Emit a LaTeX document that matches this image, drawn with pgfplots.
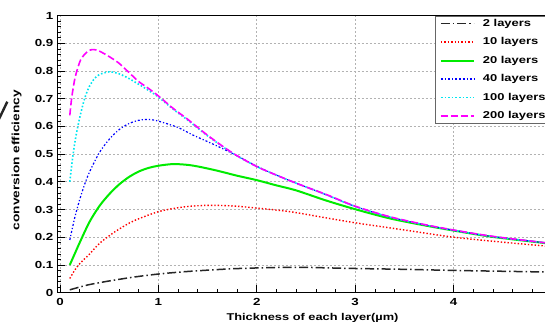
\documentclass[border=0pt]{standalone}
\usepackage{fontspec}
\setmainfont{Liberation Sans}[FakeStretch=1.3]
\usepackage{pgfplots}
\pgfplotsset{compat=1.18}

\definecolor{rootgreen}{RGB}{0,235,0}
\definecolor{rootcyan}{RGB}{0,230,240}
\definecolor{rootmagenta}{RGB}{255,0,255}
\definecolor{rootred}{RGB}{255,0,0}
\definecolor{rootblue}{RGB}{0,0,255}

\begin{document}
\begin{tikzpicture}
% page frame: the plot runs past the right edge
\useasboundingbox (-57.5bp,-29.4bp) rectangle (487.5bp,292.6bp);
\clip (-57.5bp,-29.4bp) rectangle (487.5bp,292.6bp);
\begin{axis}[
  at={(0bp,0bp)}, anchor=south west,
  scale only axis,
  width=494.5bp, height=277bp,
  xmin=-0.025, xmax=5, ymin=0, ymax=1,
  xtick={0,1,2,3,4,5},
  xticklabels={0,1,2,3,4,{}},
  ytick={0,0.1,...,1.01},
  minor x tick num=4, minor y tick num=4,
  tick align=inside, tick pos=left,
  major tick length=8bp, minor tick length=4bp,
  every tick/.style={black, line width=0.6bp},
  axis line style={black, line width=0.8bp},
  grid=major,
  major grid style={gray!60, line width=0.6bp, dash pattern=on 2bp off 2bp},
  /pgf/number format/assume math mode=true,
  yticklabel style={font=\fontsize{10.3}{11}\selectfont\bfseries, inner sep=0pt, anchor=east, xshift=-4bp},
  xticklabel style={font=\fontsize{10.3}{11}\selectfont\bfseries, inner sep=0pt, anchor=north, yshift=-6bp},
  xlabel={Thickness of each layer(\textmu m)},
  ylabel={conversion efficiency},
  every axis x label/.style={at={(axis description cs:0.5157,0)}, anchor=base, yshift=-27.8bp,
    font=\fontsize{9.9}{11}\selectfont\bfseries},
  every axis y label/.style={at={(axis description cs:-0.0825,0.478)}, rotate=90, anchor=center,
    font=\fontsize{10.6}{11}\selectfont\bfseries},
  legend image code/.code={\draw[#1] (0bp,0bp) -- (33bp,0bp);},
  legend cell align=left,
  legend style={at={(axis description cs:0.7634,1)}, anchor=north west,
    draw=black!60, fill=white, line width=0.8bp,
    inner xsep=4.5bp, inner ysep=3bp,
    font=\fontsize{10}{11}\selectfont\bfseries,
    nodes={inner sep=0pt, text height=7.5bp, text depth=2bp},
    row sep=8.9bp, column sep=8bp},
]
% 2 layers
\addplot[black!85, line width=1.5bp, dash pattern=on 9bp off 3bp on 1.5bp off 3bp, smooth] coordinates {
 (0.1,0.010) (0.2,0.020) (0.3,0.029) (0.5,0.042) (0.75,0.056) (1,0.067) (1.25,0.075)
 (1.5,0.081) (1.75,0.086) (2,0.089) (2.25,0.091) (2.5,0.091) (2.75,0.089) (3,0.087)
 (3.5,0.084) (4,0.080) (4.5,0.077) (5,0.074)};
\addlegendentry{2 layers}
% 10 layers
\addplot[rootred, line width=1.4bp, dash pattern=on 1.4bp off 2bp, smooth] coordinates {
 (0.1,0.051) (0.15,0.081) (0.2,0.104) (0.3,0.139) (0.4,0.177) (0.5,0.205) (0.6,0.229)
 (0.75,0.259) (1,0.292) (1.25,0.309) (1.5,0.315) (1.75,0.313) (2,0.305) (2.34,0.292)
 (2.7,0.270) (3,0.252) (3.5,0.226) (4,0.200) (4.5,0.182) (5,0.166)};
\addlegendentry{10 layers}
% 20 layers
\addplot[rootgreen, line width=2bp, smooth] coordinates {
 (0.1,0.100) (0.15,0.140) (0.2,0.180) (0.3,0.255) (0.4,0.312) (0.5,0.355) (0.6,0.390)
 (0.7,0.417) (0.8,0.437) (0.9,0.450) (1.0,0.458) (1.15,0.464) (1.3,0.461) (1.42,0.454)
 (1.6,0.440) (1.8,0.422) (2.0,0.406) (2.2,0.387) (2.4,0.369) (2.7,0.333) (3.0,0.301)
 (3.35,0.268) (3.7,0.243) (4.0,0.224) (4.4,0.201) (5.0,0.176)};
\addlegendentry{20 layers}
% 40 layers
\addplot[rootblue, line width=1.2bp, dash pattern=on 2bp off 2bp on 1.2bp off 2bp, smooth] coordinates {
 (0.1,0.190) (0.15,0.270) (0.2,0.335) (0.25,0.390) (0.3,0.435) (0.4,0.505) (0.5,0.553)
 (0.6,0.588) (0.7,0.610) (0.8,0.622) (0.9,0.625) (1.0,0.619) (1.2,0.596) (1.35,0.569)
 (1.55,0.537) (1.75,0.503) (1.9,0.475) (2.0,0.456) (2.2,0.424) (2.4,0.395) (2.7,0.354)
 (3.0,0.311) (3.35,0.273) (3.7,0.245) (4.0,0.225) (4.4,0.202) (5.0,0.177)};
\addlegendentry{40 layers}
% 100 layers
\addplot[rootcyan, line width=1.6bp, dash pattern=on 1.6bp off 2bp, smooth] coordinates {
 (0.1,0.400) (0.13,0.490) (0.16,0.560) (0.2,0.630) (0.25,0.700) (0.3,0.745) (0.35,0.772)
 (0.4,0.787) (0.5,0.797) (0.6,0.790) (0.7,0.773) (0.8,0.752) (0.9,0.730) (1.0,0.706)
 (1.15,0.662) (1.3,0.622) (1.5,0.566) (1.75,0.504) (2.0,0.455) (2.2,0.424) (2.4,0.395)
 (2.7,0.354) (3.0,0.311) (3.35,0.273) (3.7,0.245) (4.0,0.225) (4.4,0.202) (5.0,0.177)};
\addlegendentry{100 layers}
% 200 layers
\addplot[rootmagenta, line width=1.6bp, dash pattern=on 7bp off 3bp, smooth] coordinates {
 (0.1,0.640) (0.12,0.705) (0.15,0.770) (0.18,0.810) (0.21,0.840) (0.25,0.860) (0.3,0.875)
 (0.35,0.877) (0.4,0.872) (0.5,0.852) (0.6,0.828) (0.7,0.795) (0.8,0.762) (0.9,0.737)
 (1.0,0.710) (1.15,0.665) (1.3,0.625) (1.5,0.568) (1.75,0.505) (2.0,0.455) (2.2,0.424)
 (2.4,0.395) (2.7,0.355) (3.0,0.312) (3.35,0.274) (3.7,0.246) (4.0,0.226) (4.4,0.203)
 (5.0,0.177)};
\addlegendentry{200 layers}
\end{axis}
% stroke left over at the page edge
\draw[black!85, line width=2.4bp] (-59bp,172.5bp) -- (-50.2bp,190.9bp);
\end{tikzpicture}
\end{document}
